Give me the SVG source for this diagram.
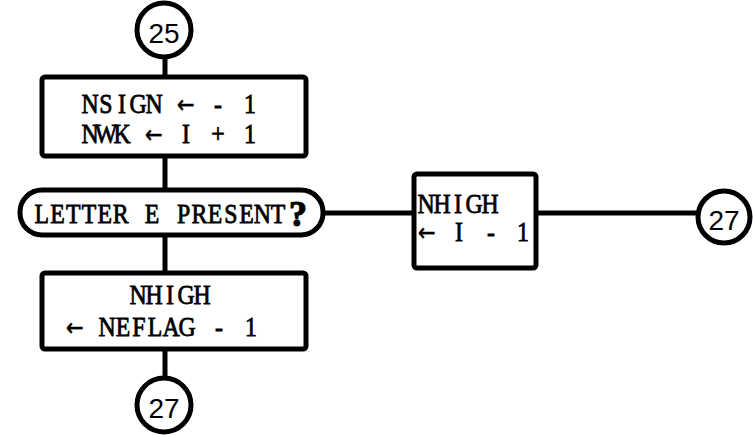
<svg xmlns="http://www.w3.org/2000/svg" width="753" height="435" viewBox="0 0 753 435">
  <style>
    .ln { stroke: #000; stroke-width: 5; fill: none; stroke-linecap: butt; }
    .box { fill: #fff; stroke: #000; stroke-width: 5; }
    .con { fill: #fff; stroke: #000; stroke-width: 5; }
    /* typewriter lettering: condensed serif, one glyph per fixed 16px cell */
    .tt { font-family: "Liberation Serif", "Times New Roman", serif; font-size: 28px; fill: #000; stroke: #000; stroke-width: 0.8; text-anchor: middle; }
    .ar { font-family: "DejaVu Sans", sans-serif; font-size: 25px; stroke-width: 0.4; }
    .num { font-family: "Liberation Sans", Arial, sans-serif; font-size: 28px; fill: #000; text-anchor: middle; }
    .q { font-family: "Liberation Serif", serif; font-size: 36px; font-weight: bold; fill: #000; stroke: #000; stroke-width: 1.2; }
  </style>
  <rect width="753" height="435" fill="#fff"/>

  <g id="connectors">
    <line class="ln" x1="165" y1="56" x2="165" y2="76"/>
    <line class="ln" x1="165" y1="156" x2="165" y2="190"/>
    <line class="ln" x1="165" y1="235" x2="165" y2="273"/>
    <line class="ln" x1="165" y1="349" x2="165" y2="378"/>
    <line class="ln" x1="323" y1="213" x2="414" y2="213"/>
    <line class="ln" x1="536" y1="213" x2="698" y2="213"/>
  </g>

  <g id="c25">
    <circle class="con" cx="164" cy="30" r="27"/>
    <text class="num" x="164" y="43">25</text>
  </g>

  <g id="assign1">
    <rect class="box" x="42" y="77" width="264" height="79" rx="3"/>
    <text class="tt" transform="translate(82 0) scale(0.85 1)" y="113" x="9.41 28.24 47.06 65.88 84.71 103.53 122.35 141.18 160 178.82 197.65">NSIGN <tspan class="ar">←</tspan> - 1</text>
    <text class="tt" transform="translate(82 0) scale(0.85 1)" y="143" x="9.41 28.24 47.06 65.88 84.71 103.53 122.35 141.18 160 178.82 197.65">NWK <tspan class="ar">←</tspan> I + 1</text>
  </g>

  <g id="test-e">
    <rect class="box" x="20" y="190" width="303" height="45" rx="22"/>
    <text class="tt" transform="translate(34 0) scale(0.85 1)" y="223" x="9.26 27.79 46.32 64.85 83.38 101.91 120.44 138.97 157.5 176.03 194.56 213.09 231.62 250.15 268.68 287.21">LETTER E PRESENT</text>
    <text class="q" x="289" y="226">?</text>
  </g>

  <g id="assign-high">
    <rect class="box" x="414" y="174" width="122" height="94" rx="3"/>
    <text class="tt" transform="translate(418 0) scale(0.85 1)" y="213" x="9.41 28.24 47.06 65.88 84.71">NHIGH</text>
    <text class="tt" transform="translate(419 0) scale(0.85 1)" y="241" x="9.41 28.24 47.06 65.88 84.71 103.53 122.35"><tspan class="ar">←</tspan> I - 1</text>
  </g>

  <g id="c27-right">
    <circle class="con" cx="724" cy="217" r="26"/>
    <text class="num" x="724" y="230">27</text>
  </g>

  <g id="assign-neflag">
    <rect class="box" x="42" y="273" width="264" height="76" rx="3"/>
    <text class="tt" transform="translate(130 0) scale(0.85 1)" y="304" x="9.41 28.24 47.06 65.88 84.71">NHIGH</text>
    <text class="tt" transform="translate(67 0) scale(0.85 1)" y="336" x="9.41 28.24 47.06 65.88 84.71 103.53 122.35 141.18 160 178.82 197.65 216.47"><tspan class="ar">←</tspan> NEFLAG - 1</text>
  </g>

  <g id="c27-bottom">
    <circle class="con" cx="164" cy="405" r="27"/>
    <text class="num" x="164" y="418">27</text>
  </g>
</svg>
